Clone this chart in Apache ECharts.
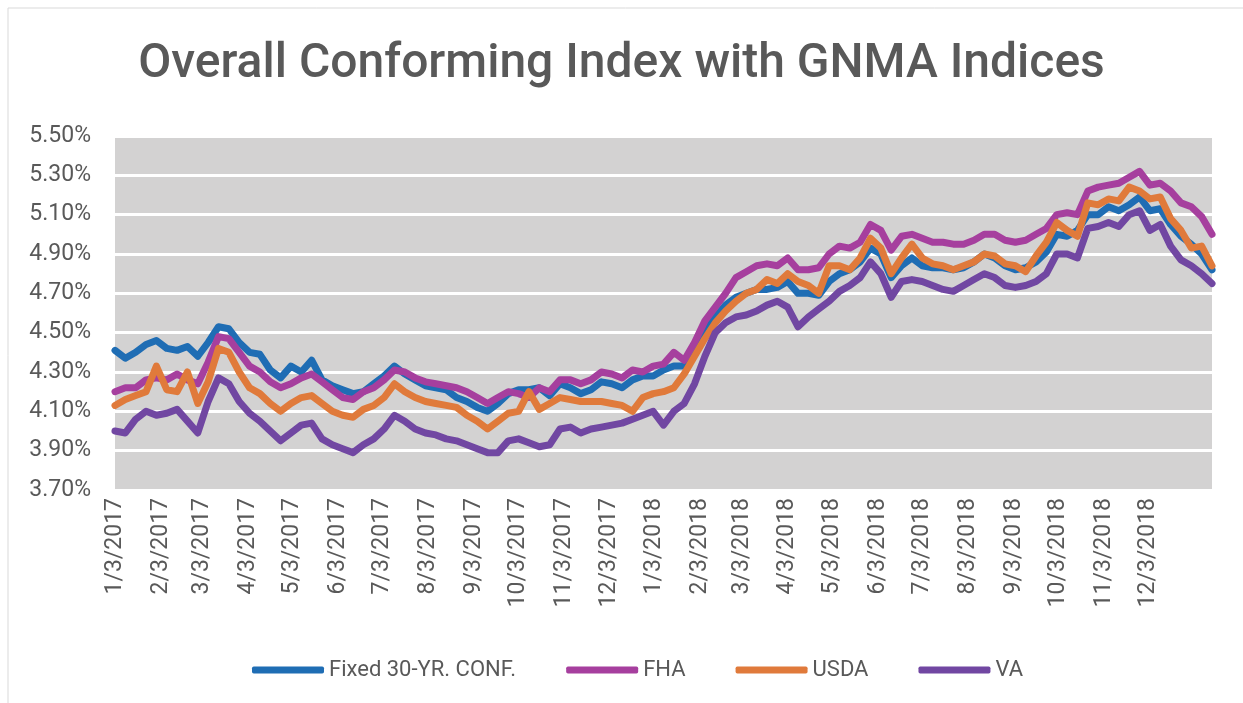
<!DOCTYPE html>
<html>
<head>
<meta charset="utf-8">
<title>Overall Conforming Index with GNMA Indices</title>
<script src="https://cdn.jsdelivr.net/npm/echarts@6/dist/echarts.min.js"></script>
<style>
  html, body { margin: 0; padding: 0; background: #fff; }
  #chart { width: 1243px; height: 703px; }
</style>
</head>
<body>
<div id="chart"></div>
<script>
// weekly samples, first one on 1/3/2017
const startDate = [2017, 0, 3]
const stepDays = 7

// y axis tick labels (percent)
const yTicks = [3.7, 3.9, 4.1, 4.3, 4.5, 4.7, 4.9, 5.1, 5.3, 5.5]

// x axis tick labels: the 3rd of every month
const xTicks = [
  '1/3/2017', '2/3/2017', '3/3/2017', '4/3/2017', '5/3/2017', '6/3/2017',
  '7/3/2017', '8/3/2017', '9/3/2017', '10/3/2017', '11/3/2017', '12/3/2017',
  '1/3/2018', '2/3/2018', '3/3/2018', '4/3/2018', '5/3/2018', '6/3/2018',
  '7/3/2018', '8/3/2018', '9/3/2018', '10/3/2018', '11/3/2018', '12/3/2018'
]

const seriesNames = ['Fixed 30-YR. CONF.', 'FHA', 'USDA', 'VA']

// rates in %, one value per week
const fixed30 = [
  4.41, 4.37, 4.40, 4.44, 4.46, 4.42, 4.41, 4.43, 4.38, 4.45,
  4.53, 4.52, 4.45, 4.40, 4.39, 4.31, 4.27, 4.33, 4.30, 4.36,
  4.26, 4.23, 4.21, 4.19, 4.20, 4.24, 4.28, 4.33, 4.29, 4.26,
  4.23, 4.22, 4.21, 4.17, 4.15, 4.12, 4.10, 4.14, 4.19, 4.21,
  4.21, 4.22, 4.18, 4.24, 4.22, 4.19, 4.21, 4.25, 4.24, 4.22,
  4.26, 4.28, 4.28, 4.31, 4.33, 4.33, 4.43, 4.53, 4.58, 4.64,
  4.68, 4.70, 4.72, 4.72, 4.73, 4.76, 4.70, 4.70, 4.69, 4.76,
  4.80, 4.82, 4.86, 4.93, 4.90, 4.78, 4.84, 4.88, 4.84, 4.83,
  4.83, 4.82, 4.83, 4.86, 4.90, 4.88, 4.84, 4.82, 4.83, 4.86,
  4.91, 5.00, 4.99, 5.02, 5.10, 5.10, 5.14, 5.12, 5.15, 5.19,
  5.12, 5.13, 5.05, 4.99, 4.95, 4.90, 4.82
]
const fha = [
  4.20, 4.22, 4.22, 4.26, 4.27, 4.26, 4.29, 4.26, 4.24, 4.35,
  4.48, 4.47, 4.40, 4.33, 4.30, 4.25, 4.22, 4.24, 4.27, 4.29,
  4.25, 4.21, 4.17, 4.16, 4.20, 4.22, 4.26, 4.31, 4.30, 4.27,
  4.25, 4.24, 4.23, 4.22, 4.20, 4.17, 4.14, 4.17, 4.20, 4.19,
  4.17, 4.22, 4.20, 4.26, 4.26, 4.24, 4.26, 4.30, 4.29, 4.27,
  4.31, 4.30, 4.33, 4.34, 4.40, 4.36, 4.45, 4.56, 4.63, 4.70,
  4.78, 4.81, 4.84, 4.85, 4.84, 4.88, 4.82, 4.82, 4.83, 4.90,
  4.94, 4.93, 4.96, 5.05, 5.02, 4.92, 4.99, 5.00, 4.98, 4.96,
  4.96, 4.95, 4.95, 4.97, 5.00, 5.00, 4.97, 4.96, 4.97, 5.00,
  5.03, 5.10, 5.11, 5.10, 5.22, 5.24, 5.25, 5.26, 5.29, 5.32,
  5.25, 5.26, 5.22, 5.16, 5.14, 5.09, 5.00
]
const usda = [
  4.13, 4.16, 4.18, 4.20, 4.33, 4.21, 4.20, 4.30, 4.14, 4.25,
  4.42, 4.40, 4.30, 4.22, 4.19, 4.14, 4.10, 4.14, 4.17, 4.18,
  4.14, 4.10, 4.08, 4.07, 4.11, 4.13, 4.17, 4.24, 4.20, 4.17,
  4.15, 4.14, 4.13, 4.12, 4.08, 4.05, 4.01, 4.05, 4.09, 4.10,
  4.20, 4.11, 4.14, 4.17, 4.16, 4.15, 4.15, 4.15, 4.14, 4.13,
  4.10, 4.17, 4.19, 4.20, 4.22, 4.29, 4.38, 4.47, 4.55, 4.61,
  4.66, 4.70, 4.72, 4.77, 4.75, 4.80, 4.76, 4.74, 4.70, 4.84,
  4.84, 4.82, 4.88, 4.98, 4.93, 4.80, 4.88, 4.95, 4.88, 4.85,
  4.84, 4.82, 4.84, 4.86, 4.90, 4.89, 4.85, 4.84, 4.81, 4.89,
  4.96, 5.06, 5.02, 4.99, 5.16, 5.15, 5.18, 5.17, 5.24, 5.22,
  5.18, 5.19, 5.08, 5.02, 4.93, 4.94, 4.84
]
const va = [
  4.00, 3.99, 4.06, 4.10, 4.08, 4.09, 4.11, 4.05, 3.99, 4.15,
  4.27, 4.24, 4.15, 4.09, 4.05, 4.00, 3.95, 3.99, 4.03, 4.04,
  3.96, 3.93, 3.91, 3.89, 3.93, 3.96, 4.01, 4.08, 4.05, 4.01,
  3.99, 3.98, 3.96, 3.95, 3.93, 3.91, 3.89, 3.89, 3.95, 3.96,
  3.94, 3.92, 3.93, 4.01, 4.02, 3.99, 4.01, 4.02, 4.03, 4.04,
  4.06, 4.08, 4.10, 4.03, 4.10, 4.14, 4.24, 4.38, 4.50, 4.55,
  4.58, 4.59, 4.61, 4.64, 4.66, 4.63, 4.53, 4.58, 4.62, 4.66,
  4.71, 4.74, 4.78, 4.86, 4.80, 4.68, 4.76, 4.77, 4.76, 4.74,
  4.72, 4.71, 4.74, 4.77, 4.80, 4.78, 4.74, 4.73, 4.74, 4.76,
  4.80, 4.90, 4.90, 4.88, 5.03, 5.04, 5.06, 5.04, 5.10, 5.12,
  5.02, 5.05, 4.94, 4.87, 4.84, 4.80, 4.75
]

const colors = ['#1f6db4', '#a63f9e', '#e07a3b', '#7147a2']
const textColor = '#595959'
const fontFamily = 'Roboto, "Liberation Sans", sans-serif'

// M/D/YYYY string -> local timestamp
const parseMDY = (s) => {
  const [m, d, y] = s.split('/').map(Number)
  return new Date(y, m - 1, d).getTime()
}

// sample dates for every value
const sampleDates = fixed30.map((_, i) =>
  new Date(startDate[0], startDate[1], startDate[2] + i * stepDays).getTime()
)

const formatDate = (val) => {
  const d = new Date(val)
  return (d.getMonth() + 1) + '/' + d.getDate() + '/' + d.getFullYear()
}

const allSeries = [fixed30, fha, usda, va]
const xTickValues = xTicks.map(parseMDY)

const chart = echarts.init(document.getElementById('chart'))

chart.setOption({
  animation: false,
  backgroundColor: '#ffffff',
  title: {
    text: 'Overall Conforming Index with GNMA Indices',
    left: 'center',
    top: 36,
    textStyle: {
      color: textColor,
      fontFamily: fontFamily,
      fontSize: 48,
      fontWeight: 500
    }
  },
  // faint frame on the top and left of the picture
  graphic: [
    { type: 'line', shape: { x1: 8, y1: 8, x2: 1243, y2: 8 }, style: { stroke: '#d9d9d9', lineWidth: 1 } },
    { type: 'line', shape: { x1: 8, y1: 8, x2: 8, y2: 703 }, style: { stroke: '#d9d9d9', lineWidth: 1 } }
  ],
  grid: {
    left: 115,
    right: 31,
    top: 136,
    bottom: 213,
    show: true,
    backgroundColor: '#d3d2d2',
    borderWidth: 0
  },
  legend: {
    data: seriesNames,
    top: 654,
    left: 247,
    icon: 'roundRect',
    itemWidth: 72,
    itemHeight: 7,
    itemGap: 50,
    textStyle: {
      color: textColor,
      fontFamily: fontFamily,
      fontSize: 22
    }
  },
  // date axis: timestamps on a value scale, labels on the 3rd of each month
  xAxis: {
    type: 'value',
    min: sampleDates[0],
    max: sampleDates[sampleDates.length - 1],
    axisLine: { show: false },
    axisTick: { show: false, customValues: xTickValues },
    splitLine: { show: false },
    axisLabel: {
      customValues: xTickValues,
      rotate: 90,
      margin: 8,
      color: textColor,
      fontFamily: fontFamily,
      fontSize: 23,
      formatter: formatDate
    }
  },
  yAxis: {
    type: 'value',
    min: yTicks[0],
    max: yTicks[yTicks.length - 1],
    axisLine: { show: false },
    axisTick: { show: false, customValues: yTicks },
    splitLine: { show: true, lineStyle: { color: '#ffffff', width: 3 } },
    axisLabel: {
      customValues: yTicks,
      margin: 24,
      color: textColor,
      fontFamily: fontFamily,
      fontSize: 23,
      formatter: (v) => v.toFixed(2) + '%'
    }
  },
  series: seriesNames.map((name, i) => ({
    name: name,
    type: 'line',
    showSymbol: false,
    symbol: 'none',
    data: sampleDates.map((t, j) => [t, allSeries[i][j]]),
    itemStyle: { color: colors[i] },
    lineStyle: { color: colors[i], width: 7, join: 'round', cap: 'round' },
    emphasis: { disabled: true }
  }))
})

window.addEventListener('resize', () => chart.resize())
</script>
</body>
</html>
